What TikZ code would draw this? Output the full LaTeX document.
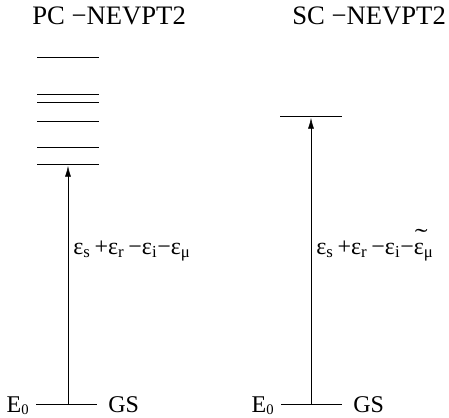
\documentclass[tikz,border=0pt]{standalone}
\usepackage{fontspec}
\setmainfont{Liberation Serif}
\usetikzlibrary{positioning,calc,arrows.meta}

% small lowered index and a wide raised tilde
\newcommand{\lowidx}[1]{\raisebox{-0.12em}{\fontsize{11}{11}\selectfont #1}}
\newcommand{\tildeeps}{\rlap{\raisebox{0.36em}{\kern0.04em\scalebox{1.6}[1]{˜}}}ε}

\begin{document}
\begin{tikzpicture}[
    x=0.75pt, y=-0.75pt,
    every node/.style={font=\fontsize{18}{21}\selectfont, inner sep=0pt},
    title/.style={anchor=base west, font=\fontsize{20}{22}\selectfont},
    level/.style={thin},
    excite/.style={thin, -{Latex[length=8pt,width=4.5pt]}, shorten >=1.5pt},
    gaptext/.style={anchor=base west}
]
\useasboundingbox (0,0) rectangle (449,417);

% titles
\node[title] (titlePC) at (32,25) {PC −NEVPT2};
\node[title] (titleSC) at (292,25) {SC −NEVPT2};

% PC levels
\foreach \y [count=\i] in {164,147,121,102,94,57} {
    \coordinate (pc\i) at (68,\y);
    \draw[level] ($(pc\i)+(-31,0)$) -- ($(pc\i)+(31,0)$);
}
% SC level
\coordinate (sc1) at (311,116);
\draw[level] ($(sc1)+(-31,0)$) -- ($(sc1)+(31,0)$);

% ground states
\coordinate (pcGS) at (67,404);
\coordinate (scGS) at (312,404);
\draw[level] ($(pcGS)+(-31,0)$) -- ($(pcGS)+(30,0)$);
\draw[level] ($(scGS)+(-31,0)$) -- ($(scGS)+(30,0)$);

\node[anchor=base east] (e0PC) at (29,412) {E\lowidx{0}};
\node[anchor=base west] (gsPC) at (108,412) {GS};
\node[anchor=base east] (e0SC) at (274,412) {E\lowidx{0}};
\node[anchor=base west] (gsSC) at (353,412) {GS};

% excitations
\draw[excite] (pcGS -| pc1) -- (pc1);
\draw[excite] (scGS -| sc1) -- (sc1);

\node[gaptext] (gapPC) at (73,254) {ε\textsubscript{s}\,+ε\textsubscript{r}\,−ε\textsubscript{i}−ε\textsubscript{μ}};
\node[gaptext] (gapSC) at (316,254) {ε\textsubscript{s}\,+ε\textsubscript{r}\,−ε\textsubscript{i}−\tildeeps\textsubscript{μ}};

\end{tikzpicture}
\end{document}
